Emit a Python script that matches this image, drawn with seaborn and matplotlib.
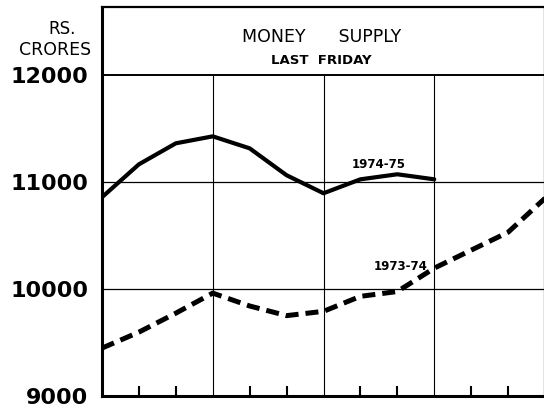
import matplotlib
matplotlib.use("Agg")
import matplotlib.pyplot as plt
import seaborn as sns
import pandas as pd

# ---- data ----
months_7475 = [0, 1, 2, 3, 4, 5, 6, 7, 8, 9]
values_7475 = [10855, 11162, 11358, 11423, 11311, 11060, 10892, 11022, 11069, 11022]
months_7374 = [0, 1, 2, 3, 4, 5, 6, 7, 8, 9, 10, 11, 12]
values_7374 = [9447, 9596, 9773, 9960, 9840, 9750, 9790, 9930, 9975, 10193, 10361, 10528, 10845]
y_ticks = [9000, 10000, 11000, 12000]
y_ticklabels = ["9000", "10000", "11000", "12000"]
minor_months = [1, 2, 4, 5, 7, 8, 10, 11]
quarter_months = [3, 6, 9]
series_labels = ["1974-75", "1973-74"]

df_a = pd.DataFrame({"month": months_7475, "value": values_7475})
df_b = pd.DataFrame({"month": months_7374, "value": values_7374})

sns.set_style("white")
plt.rcParams["font.family"] = ["DejaVu Sans"]
plt.rcParams["text.color"] = "black"
plt.rcParams["xtick.color"] = "black"
plt.rcParams["ytick.color"] = "black"
plt.rcParams["axes.labelcolor"] = "black"

fig = plt.figure(figsize=(5.44, 4.09), dpi=100)
ax = fig.add_axes([102 / 544, 1 - 396 / 409, 443 / 544, (396 - 7) / 409])

ymin, ymax = 9000, 12630
ax.set_xlim(0, 12)
ax.set_ylim(ymin, ymax)

# grid
for v in [10000, 11000]:
    ax.axhline(v, color="black", lw=0.9, zorder=1)
ax.axhline(12000, color="black", lw=1.4, zorder=1)
frac = (12000 - ymin) / (ymax - ymin)
for m in quarter_months:
    ax.axvline(m, ymin=0, ymax=frac, color="black", lw=0.8, zorder=1)

# series
sns.lineplot(data=df_a, x="month", y="value", ax=ax, color="black", lw=3.0,
             solid_capstyle="round", solid_joinstyle="round", zorder=3)
sns.lineplot(data=df_b, x="month", y="value", ax=ax, color="black", lw=3.6,
             dashes=False, zorder=3)
ax.lines[-1].set_linestyle((0, (2.6, 1.4)))
ax.lines[-1].set_dash_capstyle("butt")

# labels on lines
ax.text(7.5, 11164, series_labels[0], ha="center", va="center",
        fontsize=8.5, fontweight="bold", color="black")
ax.text(8.08, 10213, series_labels[1], ha="center", va="center",
        fontsize=8.5, fontweight="bold", color="black")

# title band
ax.text(5.95, 12349, "MONEY      SUPPLY", ha="center", va="center",
        fontsize=12.5, color="black")
ax.text(5.95, 12134, "LAST  FRIDAY", ha="center", va="center",
        fontsize=9.5, fontweight="bold", color="black")

# axes styling
for side in ["left", "bottom", "top", "right"]:
    ax.spines[side].set_visible(True)
    ax.spines[side].set_color("black")
ax.spines["left"].set_linewidth(2.2)
ax.spines["bottom"].set_linewidth(2.2)
ax.spines["top"].set_linewidth(1.6)
ax.spines["right"].set_linewidth(1.6)

ax.set_xticks(minor_months)
ax.set_xticklabels([])
ax.tick_params(axis="x", direction="in", length=7, width=1.5, color="black",
               bottom=True)
ax.set_yticks(y_ticks)
ax.set_yticklabels(y_ticklabels, fontsize=16, fontweight="bold", color="black")
ax.tick_params(axis="y", length=0, pad=10, left=True)
ax.set_xlabel("")
ax.set_ylabel("")

fig.text(62 / 544, 1 - 29 / 409, "RS.", ha="center", va="center",
         fontsize=12, color="black")
fig.text(55 / 544, 1 - 50 / 409, "CRORES", ha="center", va="center",
         fontsize=12.5, color="black")

fig.savefig("out.png", dpi=100)
